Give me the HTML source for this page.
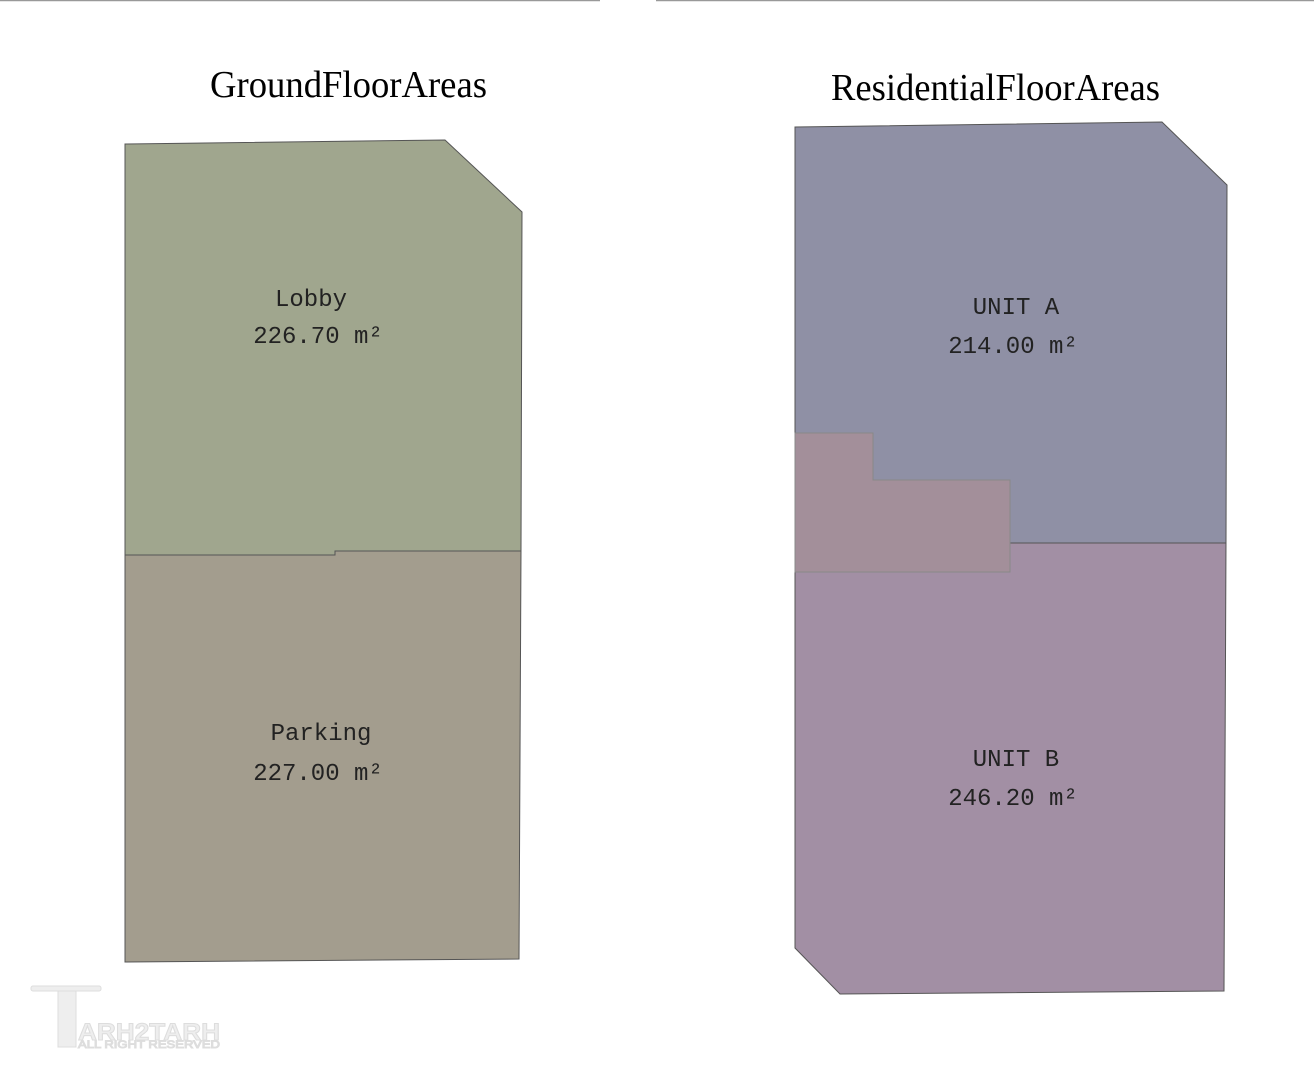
<!DOCTYPE html>
<html><head><meta charset="utf-8"><style>html,body{margin:0;padding:0;background:#fff}svg{display:block}</style></head>
<body>
<svg width="1314" height="1080" viewBox="0 0 1314 1080" xmlns="http://www.w3.org/2000/svg">
<rect width="1314" height="1080" fill="#fff"/>
<line x1="0" y1="0.5" x2="600" y2="0.5" stroke="#999" stroke-width="1.5"/>
<line x1="656" y1="0.5" x2="1314" y2="0.5" stroke="#999" stroke-width="1.5"/>
<text x="210" y="97" font-family="Liberation Serif, serif" font-size="38" textLength="277" lengthAdjust="spacingAndGlyphs">GroundFloorAreas</text>
<text x="831" y="100" font-family="Liberation Serif, serif" font-size="38" textLength="329" lengthAdjust="spacingAndGlyphs">ResidentialFloorAreas</text>
<g stroke="#555" stroke-width="1">
<polygon points="125,144 445,140 522,212 521,551 335,551 335,555 125,555" fill="#a0a68e"/>
<polygon points="125,555 335,555 335,551 521,551 519,959 125,962" fill="#a39d8e"/>
<polygon points="795,127 1162,122 1227,185 1226,543 795,543" fill="#8f90a5"/>
<polygon points="795,543 1226,543 1224,991 840,994 795,948" fill="#a28fa4"/>
</g>
<polygon points="795,433 873,433 873,480 1010,480 1010,572 795,572" fill="#a38f9a" stroke="#888" stroke-width="1"/>
<g font-family="Liberation Mono, monospace" font-size="24" fill="#222" text-anchor="middle">
<text x="311" y="306">Lobby</text>
<text x="318" y="343">226.70 m²</text>
<text x="321" y="740">Parking</text>
<text x="318" y="780">227.00 m²</text>
<text x="1016" y="314">UNIT A</text>
<text x="1013" y="353">214.00 m²</text>
<text x="1016" y="766">UNIT B</text>
<text x="1013" y="805">246.20 m²</text>
</g>
<g fill="#eee" stroke="#ddd" font-family="Liberation Sans, sans-serif">
<rect x="31" y="986" width="70" height="5" rx="2"/>
<rect x="58" y="991" width="18" height="56"/>
<text x="78" y="1040" font-size="24" font-weight="bold" textLength="142" lengthAdjust="spacingAndGlyphs">ARH2TARH</text>
<text x="78" y="1048" font-size="11" textLength="142" lengthAdjust="spacingAndGlyphs">ALL RIGHT RESERVED</text>
</g>
</svg>
</body></html>
